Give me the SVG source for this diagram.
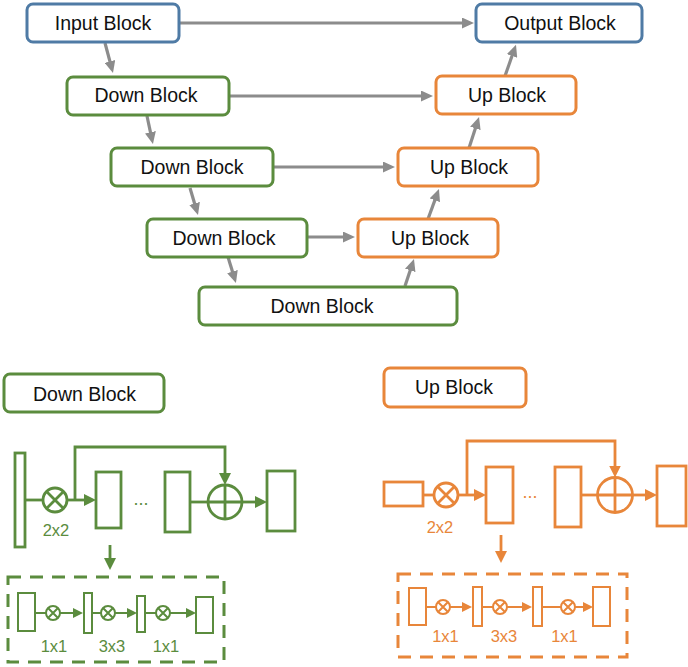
<svg xmlns="http://www.w3.org/2000/svg" width="688" height="667" viewBox="0 0 688 667">
<style>
.box{fill:#fff;stroke-width:3}
.blue{stroke:#4f7ba5}
.grn{stroke:#5b8c3e}
.org{stroke:#e8863a}
.lbl{font-family:"Liberation Sans",Arial,Helvetica,sans-serif;font-size:19.5px;fill:#111;text-anchor:middle}
.g{fill:none;stroke:#5b8c3e}
.o{fill:none;stroke:#e8863a}
.w3{stroke-width:2.8}
.w2{stroke-width:2}
.gt{font-family:"Liberation Sans",Arial,Helvetica,sans-serif;font-size:16.5px;fill:#5b8c3e;text-anchor:middle}
.ot{font-family:"Liberation Sans",Arial,Helvetica,sans-serif;font-size:16.5px;fill:#e8863a;text-anchor:middle}
.dots{font-size:18px}
.gray{fill:none;stroke:#8c8c8c;stroke-width:3.2}
.dash{stroke-dasharray:13 9;stroke-width:3}
</style>
<defs>
<marker id="ag" viewBox="0 0 12 11" markerWidth="12" markerHeight="11" refX="6" refY="5.5" orient="auto" markerUnits="userSpaceOnUse"><path d="M0,0 L12,5.5 L0,11 z" fill="#8c8c8c"/></marker>
<marker id="gb" viewBox="0 0 12 12" markerWidth="12" markerHeight="12" refX="6" refY="6" orient="auto" markerUnits="userSpaceOnUse"><path d="M0,0 L12,6 L0,12 z" fill="#5b8c3e"/></marker>
<marker id="gs" viewBox="0 0 10 10" markerWidth="10" markerHeight="10" refX="5" refY="5" orient="auto" markerUnits="userSpaceOnUse"><path d="M0,0 L10,5 L0,10 z" fill="#5b8c3e"/></marker>
<marker id="ob" viewBox="0 0 12 12" markerWidth="12" markerHeight="12" refX="6" refY="6" orient="auto" markerUnits="userSpaceOnUse"><path d="M0,0 L12,6 L0,12 z" fill="#e8863a"/></marker>
<marker id="os" viewBox="0 0 10 10" markerWidth="10" markerHeight="10" refX="5" refY="5" orient="auto" markerUnits="userSpaceOnUse"><path d="M0,0 L10,5 L0,10 z" fill="#e8863a"/></marker>
</defs>
<rect width="688" height="667" fill="#fff"/>

<g id="connectors">
<path class="gray" d="M180,23 H468" marker-end="url(#ag)"/>
<path class="gray" d="M105,43 L111.45,67.2" marker-end="url(#ag)"/>
<path class="gray" d="M230,96 H427" marker-end="url(#ag)"/>
<path class="gray" d="M147,116 L151.7,138.1" marker-end="url(#ag)"/>
<path class="gray" d="M274,167 H389" marker-end="url(#ag)"/>
<path class="gray" d="M190,188 L196.3,209.2" marker-end="url(#ag)"/>
<path class="gray" d="M308,237 H349" marker-end="url(#ag)"/>
<path class="gray" d="M228,257 L234.2,277.3" marker-end="url(#ag)"/>
<path class="gray" d="M405,286 L412.1,264.7" marker-end="url(#ag)"/>
<path class="gray" d="M428,219 L436.9,194.6" marker-end="url(#ag)"/>
<path class="gray" d="M469,148 L477.2,122.7" marker-end="url(#ag)"/>
<path class="gray" d="M505,76 L514,50.3" marker-end="url(#ag)"/>
</g>

<g id="input"><rect class="box blue" x="27" y="4" width="152" height="38" rx="6"/><text class="lbl" x="103" y="30">Input Block</text></g>
<g id="output"><rect class="box blue" x="476" y="4" width="166" height="38" rx="6"/><text class="lbl" x="560" y="30">Output Block</text></g>
<g id="down1"><rect class="box grn" x="67" y="77" width="162" height="38" rx="6"/><text class="lbl" x="146" y="102">Down Block</text></g>
<g id="up1"><rect class="box org" x="436" y="76" width="140" height="38" rx="6"/><text class="lbl" x="507" y="102">Up Block</text></g>
<g id="down2"><rect class="box grn" x="111" y="148" width="162" height="38" rx="6"/><text class="lbl" x="192" y="174">Down Block</text></g>
<g id="up2"><rect class="box org" x="398" y="148" width="140" height="38" rx="6"/><text class="lbl" x="469" y="174">Up Block</text></g>
<g id="down3"><rect class="box grn" x="147" y="219" width="160" height="38" rx="6"/><text class="lbl" x="224" y="245">Down Block</text></g>
<g id="up3"><rect class="box org" x="358" y="219" width="140" height="38" rx="6"/><text class="lbl" x="430" y="245">Up Block</text></g>
<g id="down4"><rect class="box grn" x="199" y="287" width="258" height="38" rx="6"/><text class="lbl" x="322" y="313">Down Block</text></g>

<g id="legend-down"><rect class="box grn" x="4" y="374" width="160" height="38" rx="6"/><text class="lbl" x="84.5" y="401">Down Block</text></g>
<g id="legend-up"><rect class="box org" x="384" y="368" width="142" height="39" rx="6"/><text class="lbl" x="454" y="394">Up Block</text></g>

<g id="down-detail">
<rect class="g w3" x="15" y="453" width="10" height="94"/>
<path class="g w3" d="M25,500 H43"/>
<circle class="g w3" cx="55" cy="500" r="12"/>
<path class="g w3" d="M46.5,491.5 L63.5,508.5 M63.5,491.5 L46.5,508.5"/>
<text class="gt" x="56" y="536">2x2</text>
<path class="g w3" d="M67,500 H90" marker-end="url(#gb)"/>
<path class="g w3" d="M75,500 V447 H225 V479" marker-end="url(#gb)"/>
<rect class="g w3" x="96" y="472" width="25" height="56"/>
<text class="gt dots" x="141" y="505">...</text>
<rect class="g w3" x="165" y="472" width="25" height="60"/>
<path class="g w3" d="M190,502 H208"/>
<circle class="g w3" cx="225" cy="502" r="17"/>
<path class="g w3" d="M225,485 V519 M208,502 H242"/>
<path class="g w3" d="M242,502 H261" marker-end="url(#gb)"/>
<rect class="g w3" x="267" y="471" width="28" height="60"/>
<path class="g w3" d="M110,545 V564" marker-end="url(#gb)"/>
<rect class="g dash" x="8" y="577" width="216" height="85"/>
<rect class="g w2" x="18" y="593" width="17" height="38"/>
<path class="g w2" d="M35,613 H46"/>
<circle class="g w2" cx="53" cy="613" r="7"/>
<path class="g w2" d="M48,608 L58,618 M58,608 L48,618"/>
<path class="g w2" d="M60,613 H78" marker-end="url(#gs)"/>
<rect class="g w2" x="84" y="593" width="8" height="40"/>
<path class="g w2" d="M92,613 H101"/>
<circle class="g w2" cx="108" cy="613" r="7"/>
<path class="g w2" d="M103,608 L113,618 M113,608 L103,618"/>
<path class="g w2" d="M115,613 H132" marker-end="url(#gs)"/>
<rect class="g w2" x="137" y="596" width="8" height="36"/>
<path class="g w2" d="M145,613 H156"/>
<circle class="g w2" cx="163" cy="613" r="7"/>
<path class="g w2" d="M158,608 L168,618 M168,608 L158,618"/>
<path class="g w2" d="M170,613 H191" marker-end="url(#gs)"/>
<rect class="g w2" x="196" y="597" width="17" height="36"/>
<text class="gt" x="54" y="652">1x1</text>
<text class="gt" x="112" y="652">3x3</text>
<text class="gt" x="166" y="652">1x1</text>
</g>

<g id="up-detail">
<rect class="o w3" x="384" y="482" width="39" height="24"/>
<path class="o w3" d="M423,495 H434"/>
<circle class="o w3" cx="446" cy="495" r="12"/>
<path class="o w3" d="M437.5,486.5 L454.5,503.5 M454.5,486.5 L437.5,503.5"/>
<text class="ot" x="440" y="533">2x2</text>
<path class="o w3" d="M458,495 H480" marker-end="url(#ob)"/>
<path class="o w3" d="M467,495 V441 H615 V471.5" marker-end="url(#ob)"/>
<rect class="o w3" x="486" y="467" width="27" height="56"/>
<text class="ot dots" x="530" y="498">...</text>
<rect class="o w3" x="555" y="467" width="26" height="60"/>
<path class="o w3" d="M581,495 H597.5"/>
<circle class="o w3" cx="615" cy="495" r="17.5"/>
<path class="o w3" d="M615,477.5 V512.5 M597.5,495 H632.5"/>
<path class="o w3" d="M632.5,495 H651" marker-end="url(#ob)"/>
<rect class="o w3" x="657" y="466" width="29" height="60"/>
<path class="o w3" d="M501,535 V557" marker-end="url(#ob)"/>
<rect class="o dash" x="398" y="574" width="229" height="83"/>
<rect class="o w2" x="409" y="588" width="17" height="37"/>
<path class="o w2" d="M426,607 H436"/>
<circle class="o w2" cx="443" cy="607" r="7"/>
<path class="o w2" d="M438,602 L448,612 M448,602 L438,612"/>
<path class="o w2" d="M450,607 H467" marker-end="url(#os)"/>
<rect class="o w2" x="473" y="587" width="9" height="39"/>
<path class="o w2" d="M482,607 H493"/>
<circle class="o w2" cx="500" cy="607" r="7"/>
<path class="o w2" d="M495,602 L505,612 M505,602 L495,612"/>
<path class="o w2" d="M507,607 H527" marker-end="url(#os)"/>
<rect class="o w2" x="533" y="587" width="9" height="39"/>
<path class="o w2" d="M542,607 H561"/>
<circle class="o w2" cx="568" cy="607" r="7"/>
<path class="o w2" d="M563,602 L573,612 M573,602 L563,612"/>
<path class="o w2" d="M575,607 H588" marker-end="url(#os)"/>
<rect class="o w2" x="593" y="587" width="17" height="39"/>
<text class="ot" x="445.5" y="642">1x1</text>
<text class="ot" x="504" y="642">3x3</text>
<text class="ot" x="564.5" y="642">1x1</text>
</g>
</svg>
